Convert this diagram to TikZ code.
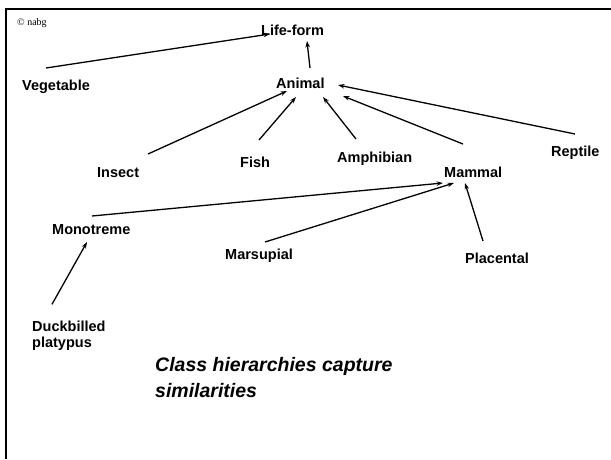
\documentclass[tikz,border=0pt]{standalone}
\usepackage{fontspec}
\setmainfont{Liberation Sans}
\newfontfamily\serifsmall{Liberation Serif}
\usetikzlibrary{arrows.meta}
\begin{document}
\begin{tikzpicture}[x=1pt,y=-1pt,
  lbl/.style={font=\fontsize{14.5}{16}\selectfont\bfseries, inner sep=0pt, anchor=base west},
  isa/.style={line width=1.3pt, -{Stealth[length=6.5pt,width=4.5pt]}},
  frame/.style={line width=2.7pt}]
\useasboundingbox (0,0) rectangle (611,459);
% frame
\coordinate (ftl) at (6,9);
\coordinate (ftr) at (611,9);
\coordinate (fbl) at (6,459);
\draw[frame] (ftr) -- (ftl) -- (fbl);
\node[inner sep=0pt, anchor=base west, font=\serifsmall\fontsize{10}{12}\selectfont] (copy) at (17,25) {© nabg};
% labels
\node[lbl] (life) at (261,35) {Life-form};
\node[lbl] (veg) at (22,90) {Vegetable};
\node[lbl] (animal) at (276,88) {Animal};
\node[lbl] (insect) at (97,177) {Insect};
\node[lbl] (fish) at (240,167) {Fish};
\node[lbl] (amph) at (337,162) {Amphibian};
\node[lbl] (mammal) at (444,177) {Mammal};
\node[lbl] (reptile) at (551,156) {Reptile};
\node[lbl] (mono) at (52,234) {Monotreme};
\node[lbl] (mars) at (225,259) {Marsupial};
\node[lbl] (plac) at (465,263) {Placental};
\node[lbl, align=left] (duck) at (32,347) {Duckbilled\\platypus};
\node[inner sep=0pt, anchor=base west, align=left, font=\fontsize{19.5}{25.5}\selectfont\bfseries\itshape] (title) at (155,397) {Class hierarchies capture\\similarities};
% connectors
\draw[isa] ([shift={(24,-22)}]veg.base west) -- ([shift={(9,-1)}]life.base west);
\draw[isa] ([shift={(34,-20)}]animal.base west) -- ([shift={(46,6)}]life.base west);
\draw[isa] ([shift={(51,-23)}]insect.base west) -- ([shift={(11,3)}]animal.base west);
\draw[isa] ([shift={(19,-27)}]fish.base west) -- ([shift={(20,9)}]animal.base west);
\draw[isa] ([shift={(19,-23)}]amph.base west) -- ([shift={(47,9)}]animal.base west);
\draw[isa] ([shift={(19,-33)}]mammal.base west) -- ([shift={(67,8)}]animal.base west);
\draw[isa] ([shift={(24,-22)}]reptile.base west) -- ([shift={(62,-3)}]animal.base west);
\draw[isa] ([shift={(40,-18)}]mono.base west) -- ([shift={(-1,6)}]mammal.base west);
\draw[isa] ([shift={(40,-17)}]mars.base west) -- ([shift={(10,6)}]mammal.base west);
\draw[isa] ([shift={(18,-22)}]plac.base west) -- ([shift={(21,6)}]mammal.base west);
\draw[isa] ([shift={(20,-16)}]duck.north west) -- ([shift={(35,8)}]mono.base west);
\end{tikzpicture}
\end{document}
